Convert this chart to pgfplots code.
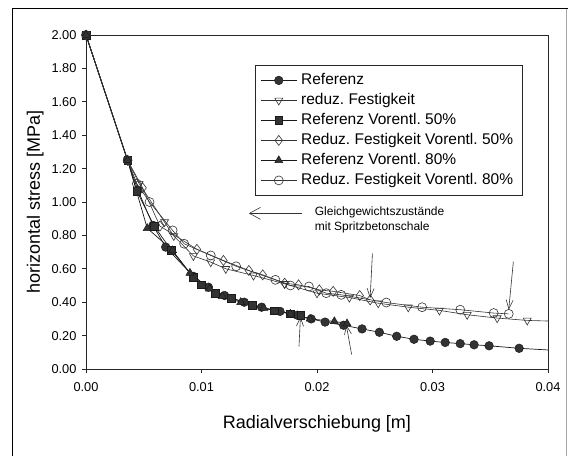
\documentclass[border=0pt]{standalone}
\usepackage{fontspec}
\setmainfont{Liberation Sans}
\usepackage{pgfplots}
\pgfplotsset{compat=1.18}
\usetikzlibrary{arrows.meta}
\frenchspacing

\begin{document}
\begin{tikzpicture}
\begin{axis}[
  name=ax,
  at={(0pt,0pt)}, anchor=south west,
  scale only axis, width=462pt, height=334pt,
  xmin=0, xmax=0.04, ymin=0, ymax=2,
  xtick={0,0.01,0.02,0.03,0.04},
  ytick={0,0.2,0.4,0.6,0.8,1.0,1.2,1.4,1.6,1.8,2.0},
  scaled x ticks=false, scaled y ticks=false,
  tick align=outside, tick pos=left,
  major tick length=4pt,
  axis line style={line width=0.9pt, black!85},
  every tick/.style={line width=0.8pt, black!85},
  /pgf/number format/assume math mode=true,
  xticklabel style={/pgf/number format/.cd, fixed, fixed zerofill, precision=2, /tikz/.cd, yshift=-6pt},
  yticklabel style={/pgf/number format/.cd, fixed, fixed zerofill, precision=2, /tikz/.cd, xshift=-2pt},
  tick label style={font=\fontsize{12.8}{14}\selectfont},
  xlabel={Radialverschiebung [m]},
  ylabel={horizontal stress [MPa]},
  label style={font=\fontsize{18}{21}\selectfont},
  xlabel style={at={(axis description cs:0.5,-0.165)}, anchor=center},
  ylabel style={at={(axis description cs:-0.11,0.5)}, anchor=center},
  legend style={at={(axis description cs:0.366,0.910)}, anchor=north west,
    font=\fontsize{15.5}{18}\selectfont, draw=black!85, line width=0.7pt,
    inner xsep=5pt, inner ysep=5pt, row sep=0pt,
    nodes={text height=11.5pt, text depth=3.5pt, inner ysep=2.5pt, inner xsep=4pt},
    cells={anchor=west}},
  legend image code/.code={\draw[mark repeat=2, mark phase=2] plot coordinates {(0pt,0pt) (18pt,0pt) (36pt,0pt)};},
  clip=true,
]
% Referenz
\addplot[black!90, line width=0.7pt, mark=*, mark size=4.3pt, mark options={fill=black!80, line width=0.5pt}] coordinates {
(0,2.00)(0.0036,1.25)(0.0045,1.07)(0.0058,0.86)(0.0069,0.73)(0.0093,0.555)(0.0106,0.49)(0.0120,0.44)(0.0137,0.40)(0.0152,0.37)(0.0168,0.345)(0.0183,0.322)(0.0195,0.30)(0.0207,0.281)(0.0223,0.262)(0.0239,0.240)(0.0254,0.220)(0.0269,0.196)(0.0284,0.178)(0.0298,0.167)(0.0311,0.159)(0.0324,0.152)(0.0336,0.145)(0.0349,0.139)(0.0375,0.124)(0.0420,0.106)};
\addlegendentry{Referenz}
% reduz. Festigkeit
\addplot[black!80, line width=0.6pt, mark=triangle, mark size=4.6pt, mark options={fill=white, rotate=180, line width=0.6pt}] coordinates {
(0,2.00)(0.0036,1.25)(0.0046,1.11)(0.0068,0.88)(0.0076,0.797)(0.0093,0.677)(0.0108,0.64)(0.0121,0.60)(0.0145,0.56)(0.0172,0.51)(0.0200,0.454)(0.0228,0.428)(0.0253,0.394)(0.0279,0.37)(0.0306,0.351)(0.0330,0.325)(0.0356,0.305)(0.0382,0.291)(0.0420,0.283)};
\addlegendentry{reduz.\ Festigkeit}
% Referenz Vorentl. 50%
\addplot[black!90, line width=0.7pt, mark=square*, mark size=3.8pt, mark options={fill=black!80, line width=0.5pt}] coordinates {
(0,2.00)(0.0036,1.25)(0.0044,1.066)(0.0059,0.856)(0.0074,0.71)(0.0093,0.55)(0.0100,0.505)(0.0112,0.455)(0.0126,0.425)(0.0144,0.38)(0.0163,0.35)(0.0177,0.33)(0.0186,0.322)};
\addlegendentry{Referenz Vorentl.\ 50\%}
% Reduz. Festigkeit Vorentl. 50%
\addplot[black!80, line width=0.6pt, mark=diamond, mark size=5pt, mark options={fill=white, line width=0.6pt}] coordinates {
(0,2.00)(0.0036,1.25)(0.0049,1.085)(0.0064,0.856)(0.0096,0.717)(0.0119,0.65)(0.0141,0.59)(0.0153,0.564)(0.0172,0.514)(0.0184,0.504)(0.0202,0.474)(0.0214,0.465)(0.0237,0.44)(0.0246,0.414)};
\addlegendentry{Reduz.\ Festigkeit Vorentl.\ 50\%}
% Referenz Vorentl. 80%
\addplot[black!90, line width=0.7pt, mark=triangle*, mark size=4.6pt, mark options={fill=black!80, line width=0.5pt}] coordinates {
(0,2.00)(0.0036,1.25)(0.0053,0.843)(0.0075,0.71)(0.0090,0.575)(0.0107,0.48)(0.0118,0.435)(0.0134,0.40)(0.0154,0.365)(0.0177,0.33)(0.0194,0.30)(0.0215,0.285)(0.0226,0.272)};
\addlegendentry{Referenz Vorentl.\ 80\%}
% Reduz. Festigkeit Vorentl. 80%
\addplot[black!80, line width=0.6pt, mark=o, mark size=4.5pt, mark options={fill=white, line width=0.6pt}] coordinates {
(0,2.00)(0.0036,1.25)(0.0044,1.11)(0.0055,1.00)(0.0075,0.83)(0.0085,0.75)(0.0108,0.68)(0.0130,0.615)(0.0164,0.534)(0.0177,0.50)(0.0193,0.494)(0.0208,0.454)(0.0221,0.444)(0.0260,0.398)(0.0291,0.37)(0.0324,0.355)(0.0353,0.335)(0.0366,0.33)};
\addlegendentry{Reduz.\ Festigkeit Vorentl.\ 80\%}
% annotation arrows
\draw[black!80, line width=0.6pt, -{Straight Barb[length=9pt, width=7pt]}] (axis cs:0.0248,0.693) -- (axis cs:0.0246,0.424);
\draw[black!80, line width=0.6pt, -{Straight Barb[length=9pt, width=7pt]}] (axis cs:0.0370,0.643) -- (axis cs:0.0366,0.355);
\draw[black!80, line width=0.6pt, -{Straight Barb[length=9pt, width=7pt]}] (axis cs:0.01844,0.135) -- (axis cs:0.01857,0.315);
\draw[black!80, line width=0.6pt, -{Straight Barb[length=9pt, width=7pt]}] (axis cs:0.0230,0.086) -- (axis cs:0.02253,0.265);
\draw[black!80, line width=0.6pt, -{Straight Barb[length=11pt, width=12pt]}] (axis cs:0.0187,0.932) -- (axis cs:0.0141,0.932);
\node[anchor=west, align=left, font=\fontsize{12}{15}\selectfont, inner sep=0pt] at (axis cs:0.0198,0.89) {Gleichgewichtszustände\\mit Spritzbetonschale};
\end{axis}
% outer frame, relative to the axis box (axis box south west at 86,87 of a 574x456 page)
\path (ax.south west) ++(-86pt,-87pt) coordinate (pg);
\path[use as bounding box] (pg) rectangle ++(574pt,456pt);
\draw[line width=1pt] ([xshift=13pt]pg) -- ++(0pt,447pt) -- ++(555pt,0pt);
\draw[line width=0.6pt, black!35] ([xshift=566pt,yshift=447pt]pg) -- ([xshift=566pt]pg);
\end{tikzpicture}
\end{document}
